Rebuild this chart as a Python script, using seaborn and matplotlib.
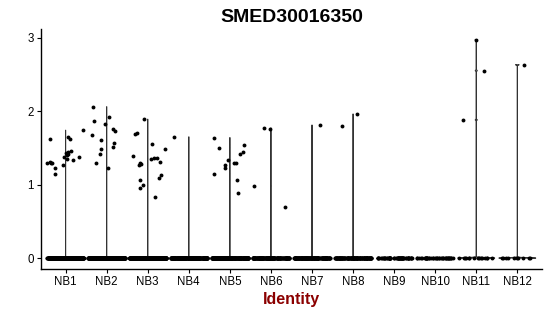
import numpy as np
import pandas as pd
import matplotlib
matplotlib.use("Agg")
import matplotlib.pyplot as plt
import seaborn as sns

identities = ["NB1", "NB2", "NB3", "NB4", "NB5", "NB6",
              "NB7", "NB8", "NB9", "NB10", "NB11", "NB12"]
zero_counts = [300, 300, 300, 250, 250, 150, 150, 120, 60, 40, 15, 10]

nb1 = [1.74, 1.62, 1.62, 1.65, 1.46, 1.40, 1.44, 1.37, 1.38, 1.35, 1.34,
       1.31, 1.26, 1.30, 1.29, 1.30, 1.22, 1.15, 1.43, 1.42]
nb2 = [1.22, 1.30, 1.42, 1.57, 1.82, 1.73, 1.76, 1.61, 1.67, 1.51, 1.48,
       1.92, 2.06, 1.86]
nb3 = [1.89, 1.70, 1.69, 1.55, 1.49, 1.39, 1.36, 1.35, 1.36, 1.28, 1.27,
       1.29, 1.31, 1.13, 1.09, 1.06, 0.99, 0.95, 0.83]
nb4 = [1.65]
nb5 = [1.64, 1.54, 1.50, 1.44, 1.42, 1.30, 1.26, 1.34, 1.29, 1.23, 1.15,
       1.06, 0.89]
nb6 = [1.76, 1.77, 0.98, 0.69]
nb7 = [1.81]
nb8 = [1.80, 1.96]
nb9 = []
nb10 = []
nb11 = [2.97, 2.55, 1.88]
nb12 = [2.63]
nonzero_values = [nb1, nb2, nb3, nb4, nb5, nb6, nb7, nb8, nb9, nb10, nb11, nb12]

rows = []
for ident, nz, vals in zip(identities, zero_counts, nonzero_values):
    rows += [(ident, 0.0)] * nz + [(ident, v) for v in vals]
df = pd.DataFrame(rows, columns=["Identity", "expr"])

sns.set_theme(style="ticks")
plt.rcParams['font.family'] = ['Liberation Sans', 'DejaVu Sans']

fig = plt.figure(figsize=(5.5, 3.16), dpi=100)
ax = fig.add_axes([0.0745, 0.1487, 0.9109, 0.7603])

sns.violinplot(data=df, x="Identity", y="expr", order=identities,
               density_norm="width", cut=0, inner=None, fill=False,
               color="#333333", linewidth=0.7, bw_method=0.006, width=0.9,
               gridsize=400, ax=ax)
np.random.seed(3)
sns.stripplot(data=df, x="Identity", y="expr", order=identities,
              color="black", size=2.8, jitter=0.45, linewidth=0, ax=ax)

ax.set_ylim(-0.149, 3.12)
ax.set_xlim(-0.6, 11.6)
ax.set_yticks([0, 1, 2, 3])
ax.set_yticklabels(["0", "1", "2", "3"])
ax.tick_params(axis="both", colors="black", labelsize=8.3, length=3,
               width=0.8, pad=2)
for s in ["left", "bottom"]:
    ax.spines[s].set_color("black")
    ax.spines[s].set_linewidth(1.0)
sns.despine(ax=ax)
ax.set_ylabel("")
ax.set_xlabel("Identity", color="#8B0000", fontsize=11.5,
              fontweight="bold", labelpad=3)
ax.set_title("SMED30016350", fontsize=14, fontweight="bold", pad=5,
             color="black")

fig.savefig("out.png", dpi=100)
